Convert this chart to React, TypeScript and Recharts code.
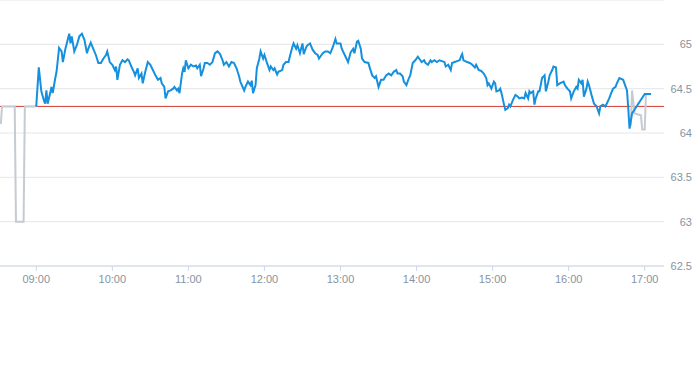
import { CartesianGrid, Line, LineChart, ReferenceLine, XAxis, YAxis } from "recharts";

// minutes since midnight / price
const preTimes = [512, 513, 523, 524, 530, 531, 540];
const preValues = [64.1, 64.3, 64.3, 63.0, 63.0, 64.3, 64.3];

const mainTimes = [
  540, 542, 544, 546, 547, 548, 549, 551, 552, 553, 555, 556, 558, 560, 561, 563, 566, 567, 568, 570,
  572, 574, 576, 578, 580, 581, 583, 585, 587, 589, 591, 593, 595, 596, 598, 600, 602, 603, 604, 606,
  608, 610, 612, 613, 615, 617, 618, 620, 621, 623, 624, 626, 628, 630, 632, 634, 636, 638, 639, 641,
  642, 644, 646, 648, 649, 651, 652, 653, 655, 656, 657, 658, 660, 662, 664, 666, 667, 669, 670, 672,
  673, 675, 677, 679, 681, 683, 685, 687, 688, 690, 692, 694, 696, 698, 700, 701, 704, 705, 707, 709,
  710, 711, 713, 714, 716, 717, 719, 720, 722, 724, 725, 727, 728, 730, 731, 734, 735, 737, 739, 740,
  742, 743, 745, 746, 748, 750, 751, 753, 754, 756, 758, 760, 762, 763, 765, 766, 768, 770, 772, 774,
  776, 777, 780, 781, 784, 786, 788, 790, 791, 793, 794, 796, 797, 799, 802, 803, 805, 807, 808, 809,
  810, 812, 814, 816, 818, 820, 822, 824, 825, 827, 829, 830, 832, 834, 835, 837, 839, 841, 843, 844,
  846, 847, 849, 851, 852, 854, 856, 858, 860, 862, 863, 865, 867, 868, 870, 872, 874, 875, 876, 877,
  880, 882, 884, 886, 887, 889, 891, 893, 895, 896, 897, 899, 901, 902, 903, 905, 906, 907, 909, 910,
  912, 913, 914, 916, 918, 920, 921, 923, 925, 926, 928, 929, 930, 932, 933, 934, 936, 937, 939, 941,
  942, 944, 945, 947, 948, 950, 951, 953, 956, 957, 959, 961, 962, 964, 966, 967, 968, 970, 971, 972,
  974, 975, 976, 978, 980, 982, 984, 985, 987, 989, 990, 992, 993, 995, 997, 998, 1000, 1003, 1004, 1006,
  1007, 1008, 1010, 1020, 1025,
];
const mainValues = [
  64.3, 64.74, 64.47, 64.37, 64.33, 64.48, 64.33, 64.45, 64.52, 64.45, 64.62, 64.69, 64.96, 64.92, 64.8, 64.95, 65.12, 65.01, 65.09, 64.92,
  64.99, 65.09, 65.12, 65.05, 64.9, 64.95, 65.02, 64.95, 64.88, 64.79, 64.79, 64.84, 64.88, 64.92, 64.8, 64.77, 64.71, 64.75, 64.6, 64.77,
  64.82, 64.8, 64.83, 64.82, 64.75, 64.69, 64.65, 64.73, 64.62, 64.67, 64.56, 64.69, 64.8, 64.77, 64.71, 64.65, 64.6, 64.62, 64.56, 64.52,
  64.39, 64.47, 64.48, 64.5, 64.52, 64.48, 64.5, 64.45, 64.67, 64.73, 64.69, 64.82, 64.73, 64.77, 64.75, 64.76, 64.73, 64.77, 64.64, 64.73,
  64.79, 64.79, 64.77, 64.8, 64.9, 64.92, 64.89, 64.82, 64.77, 64.8, 64.75, 64.8, 64.79, 64.73, 64.64, 64.58, 64.48, 64.52, 64.58, 64.54,
  64.59, 64.45, 64.54, 64.73, 64.84, 64.92, 64.84, 64.88, 64.79, 64.71, 64.75, 64.71, 64.73, 64.66, 64.69, 64.71, 64.77, 64.8, 64.8, 64.86,
  64.97, 65.01, 64.95, 64.99, 64.9, 65.01, 64.89, 64.97, 64.99, 65.01, 64.94, 64.9, 64.88, 64.84, 64.88, 64.9, 64.92, 64.92, 64.9, 64.97,
  65.06, 65.01, 65.01, 64.95, 64.86, 64.8, 64.91, 64.95, 64.9, 65.03, 65.04, 64.95, 64.84, 64.8, 64.79, 64.74, 64.65, 64.62, 64.64, 64.58,
  64.52, 64.6, 64.6, 64.65, 64.67, 64.65, 64.69, 64.71, 64.67, 64.67, 64.64, 64.58, 64.54, 64.62, 64.65, 64.79, 64.82, 64.86, 64.82, 64.8,
  64.82, 64.79, 64.77, 64.82, 64.8, 64.82, 64.8, 64.82, 64.81, 64.8, 64.75, 64.77, 64.71, 64.79, 64.8, 64.81, 64.82, 64.86, 64.89, 64.82,
  64.8, 64.79, 64.77, 64.74, 64.77, 64.71, 64.7, 64.67, 64.62, 64.54, 64.56, 64.5, 64.58, 64.56, 64.47, 64.48, 64.5, 64.45, 64.32, 64.26,
  64.28, 64.32, 64.3, 64.37, 64.43, 64.41, 64.39, 64.4, 64.39, 64.45, 64.39, 64.47, 64.45, 64.47, 64.32, 64.39, 64.47, 64.47, 64.62, 64.65,
  64.47, 64.58, 64.65, 64.71, 64.75, 64.74, 64.54, 64.56, 64.58, 64.54, 64.5, 64.47, 64.39, 64.47, 64.52, 64.5, 64.6, 64.56, 64.6, 64.41,
  64.5, 64.58, 64.54, 64.43, 64.33, 64.3, 64.22, 64.3, 64.32, 64.3, 64.33, 64.39, 64.43, 64.5, 64.52, 64.56, 64.62, 64.6, 64.56, 64.48,
  64.28, 64.05, 64.22, 64.44, 64.44,
];

const postTimes = [1009, 1010, 1012, 1017, 1018, 1020, 1021];
const postValues = [64.08, 64.48, 64.22, 64.2, 64.04, 64.04, 64.45];

const prevClose = 64.3;
const timeTicks = [540, 600, 660, 720, 780, 840, 900, 960, 1020];
const priceTicks = [62.5, 63, 63.5, 64, 64.5, 65];

// one table keyed by time, each series filled only where it has a value
const allTimes = Array.from(new Set([...preTimes, ...mainTimes, ...postTimes])).sort((a, b) => a - b);
const chartData = allTimes.map((t) => {
  const row: Record<string, number | null> = { t, pre: null, main: null, post: null };
  const a = preTimes.indexOf(t);
  const b = mainTimes.indexOf(t);
  const c = postTimes.indexOf(t);
  if (a >= 0) row.pre = preValues[a];
  if (b >= 0) row.main = mainValues[b];
  if (c >= 0) row.post = postValues[c];
  return row;
});

const fmtTime = (m: number) => `${String(Math.floor(m / 60)).padStart(2, "0")}:${String(m % 60).padStart(2, "0")}`;

const labelColor = "#8793a0";
const font = "'Liberation Sans', Arial, sans-serif";

function PriceTick({ y, payload }: any) {
  return (
    <text x={692} y={y} dy="0.35em" textAnchor="end" fill={labelColor} fontSize={11} fontFamily={font}>
      {String(payload.value)}
    </text>
  );
}

export default function App() {
  return (
    <div style={{ position: "absolute", left: 0, top: 0 }}>
      <LineChart width={693} height={365} data={chartData} margin={{ top: 0, right: 0, left: 0, bottom: 69 }}>
        <CartesianGrid horizontal vertical={false} stroke="#e6e6e6" />
        <XAxis
          type="number"
          dataKey="t"
          domain={[511.4, 1035.2]}
          allowDataOverflow
          ticks={timeTicks}
          tickFormatter={fmtTime}
          height={30}
          stroke="#ccd6eb"
          tickSize={5}
          tickMargin={4}
          tick={{ fill: labelColor, fontSize: 11, fontFamily: font }}
        />
        <YAxis
          orientation="right"
          type="number"
          domain={[62.5, 65.5]}
          ticks={priceTicks}
          width={29}
          axisLine={false}
          tickLine={false}
          tick={<PriceTick />}
        />
        <ReferenceLine y={prevClose} stroke="#d0392f" strokeWidth={1} zIndex={100} />
        <Line dataKey="pre" type="linear" stroke="#c4cbd3" strokeWidth={2} dot={false} activeDot={false} connectNulls isAnimationActive={false} />
        <Line dataKey="post" type="linear" stroke="#c4cbd3" strokeWidth={2} dot={false} activeDot={false} connectNulls isAnimationActive={false} />
        <Line dataKey="main" type="linear" stroke="#1590de" strokeWidth={2} dot={false} activeDot={false} connectNulls isAnimationActive={false} />
      </LineChart>
    </div>
  );
}
